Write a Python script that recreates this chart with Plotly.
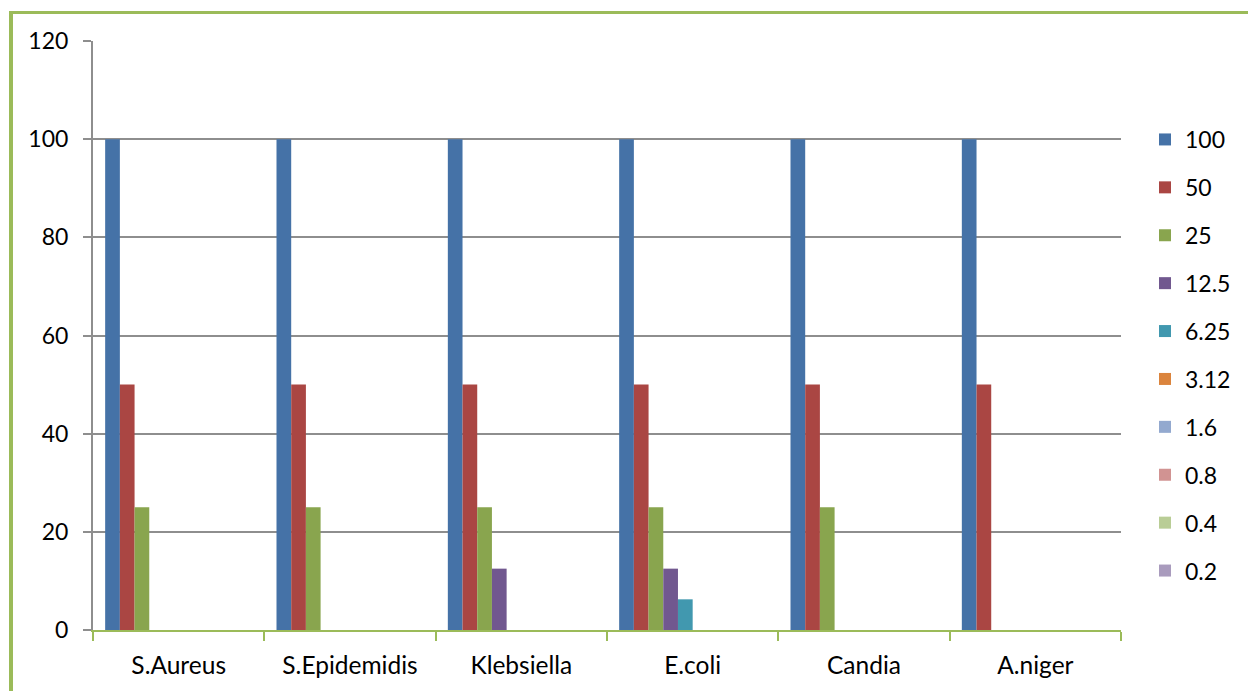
import plotly.graph_objects as go

# Organisms tested and the concentrations (series) with their recorded values
organisms = ["S.Aureus", "S.Epidemidis", "Klebsiella", "E.coli", "Candia", "A.niger"]
series_names = ["100", "50", "25", "12.5", "6.25", "3.12", "1.6", "0.8", "0.4", "0.2"]

s100 = [100, 100, 100, 100, 100, 100]
s50 = [50, 50, 50, 50, 50, 50]
s25 = [25, 25, 25, 25, 25, 0]
s12_5 = [0, 0, 12.5, 12.5, 0, 0]
s6_25 = [0, 0, 0, 6.25, 0, 0]
s3_12 = [0, 0, 0, 0, 0, 0]
s1_6 = [0, 0, 0, 0, 0, 0]
s0_8 = [0, 0, 0, 0, 0, 0]
s0_4 = [0, 0, 0, 0, 0, 0]
s0_2 = [0, 0, 0, 0, 0, 0]
series_values = [s100, s50, s25, s12_5, s6_25, s3_12, s1_6, s0_8, s0_4, s0_2]

y_ticks = [0, 20, 40, 60, 80, 100, 120]

colors = ["#4572A7", "#AA4643", "#89A54E", "#71588F", "#4198AF",
          "#DB843D", "#93A9CF", "#D19392", "#B9CD96", "#A99BBD"]

FONT = "Lato"
W, H = 1248, 691
L, R, T, B = 93, 127, 41, 61
pw, ph = W - L - R, H - T - B

fig = go.Figure()
for i, (name, vals) in enumerate(zip(series_names, series_values)):
    fig.add_trace(go.Bar(
        x=organisms, y=vals, name=name,
        marker=dict(color=colors[i], line=dict(width=0)),
        legendgroup=str(i),
    ))

def px_x(p):
    return (p - L) / pw

def px_y(p):
    return (H - B - p) / ph

# chart-area border (green), left and top edges
shapes = [
    dict(type="line", xref="paper", yref="paper",
         x0=px_x(11), x1=px_x(11), y0=px_y(12), y1=px_y(720),
         line=dict(color="#9BBB59", width=4)),
    dict(type="line", xref="paper", yref="paper",
         x0=px_x(9), x1=px_x(1270), y0=px_y(12.5), y1=px_y(12.5),
         line=dict(color="#9BBB59", width=3)),
]

fig.update_layout(
    width=W, height=H,
    margin=dict(l=L, r=R, t=T, b=B, autoexpand=False),
    paper_bgcolor="white", plot_bgcolor="white",
    barmode="group", bargap=0.142, bargroupgap=0,
    font=dict(family=FONT, size=23, color="black"),
    showlegend=True,
    legend=dict(
        x=px_x(1145), xanchor="left",
        y=px_y(118), yanchor="top",
        font=dict(family=FONT, size=23, color="black"),
        tracegroupgap=15, bgcolor="rgba(0,0,0,0)",
        itemclick=False,
    ),
    shapes=shapes,
    xaxis=dict(
        type="category", categoryorder="array", categoryarray=organisms,
        showline=True, linecolor="#9BBB59", linewidth=2,
        ticks="outside", tickson="boundaries", ticklen=9,
        tickcolor="#9BBB59", tickwidth=2,
        ticklabelstandoff=13,
        showgrid=False, zeroline=False,
        tickfont=dict(family=FONT, size=24.5, color="black"),
    ),
    yaxis=dict(
        range=[0, 120], tickvals=y_ticks,
        ticktext=[str(v) for v in y_ticks],
        showline=True, linecolor="#8E8E8E", linewidth=2,
        ticks="outside", ticklen=8, tickcolor="#8E8E8E", tickwidth=2,
        ticklabelstandoff=10,
        showgrid=True, gridcolor="#8E8E8E", gridwidth=2,
        zeroline=False,
        tickfont=dict(family=FONT, size=23, color="black"),
    ),
)

fig.write_html("out.html")
